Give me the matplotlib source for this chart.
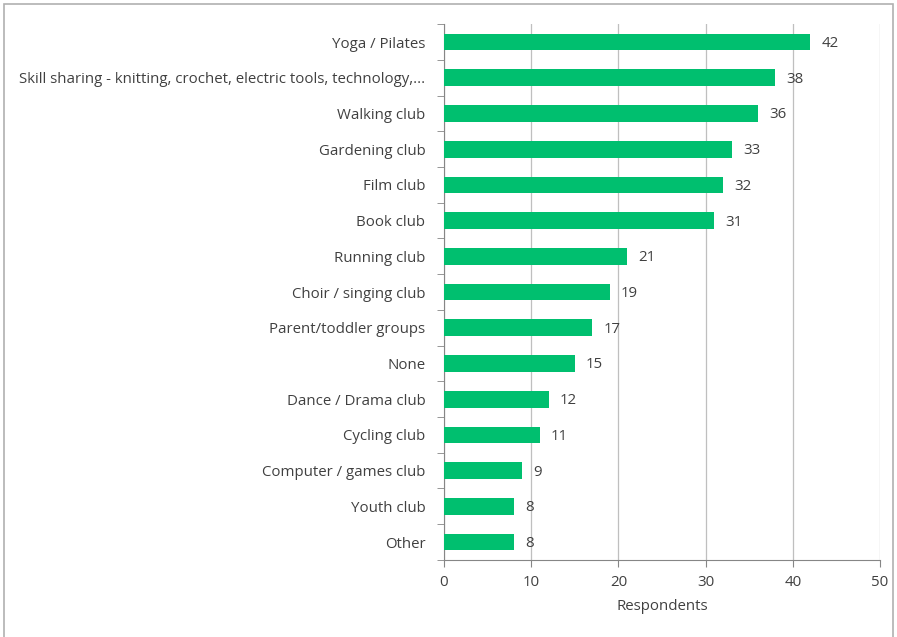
"""
Activities respondents would like - horizontal bar chart
"""

import matplotlib
matplotlib.use('Agg')
import numpy as np
from matplotlib import pyplot as plt
from matplotlib.patches import Rectangle

categories = [
    'Yoga / Pilates',
    'Skill sharing - knitting, crochet, electric tools, technology,...',
    'Walking club',
    'Gardening club',
    'Film club',
    'Book club',
    'Running club',
    'Choir / singing club',
    'Parent/toddler groups',
    'None',
    'Dance / Drama club',
    'Cycling club',
    'Computer / games club',
    'Youth club',
    'Other',
]
respondents = [42, 38, 36, 33, 32, 31, 21, 19, 17, 15, 12, 11, 9, 8, 8]
x_ticks = [0, 10, 20, 30, 40, 50]

plt.rcParams['font.family'] = ['Open Sans', 'DejaVu Sans']

text_col = '#404040'
grid_col = '#bfbfbf'
axis_col = '#868686'
bar_col = '#00bf6f'
fs = 10.8


def generated_report():
    fig = plt.figure(figsize=(8.97, 6.37), dpi=100)
    ax = fig.add_axes([0.495, 0.121, 0.486, 0.841])

    # figure border
    fig.patches.append(Rectangle((0.004, -0.01), 0.992, 1.004, transform=fig.transFigure,
                                 fill=False, edgecolor='#b0b0b0', linewidth=1.2))

    y = np.arange(len(categories))
    ax.barh(y, respondents, height=0.47, color=bar_col, zorder=3)
    ax.set_ylim(len(categories) - 0.5, -0.5)
    ax.set_xlim(0, 50)

    ax.set_yticks(y)
    ax.set_yticklabels(categories, fontsize=fs, color=text_col)
    ax.set_yticks(np.arange(len(categories) + 1) - 0.5, minor=True)
    ax.tick_params(axis='y', which='major', length=0, pad=13.5)
    ax.tick_params(axis='y', which='minor', length=5, color=axis_col, direction='out')

    ax.set_xticks(x_ticks)
    ax.tick_params(axis='x', length=5, color=axis_col, labelsize=fs, labelcolor=text_col, pad=6)
    ax.set_xlabel('Respondents', fontsize=fs, color=text_col, labelpad=6)

    ax.grid(axis='x', color=grid_col, linewidth=0.9, zorder=0)
    for s in ['top', 'right']:
        ax.spines[s].set_visible(False)
    for s in ['left', 'bottom']:
        ax.spines[s].set_color(axis_col)

    # data labels
    for yi, v in zip(y, respondents):
        ax.annotate(str(v), (v, yi), xytext=(8, -1), textcoords='offset points',
                    va='center', ha='left', fontsize=fs, color=text_col, zorder=4)

    fig.savefig('out.png', dpi=100)


if __name__ == '__main__':
    generated_report()
